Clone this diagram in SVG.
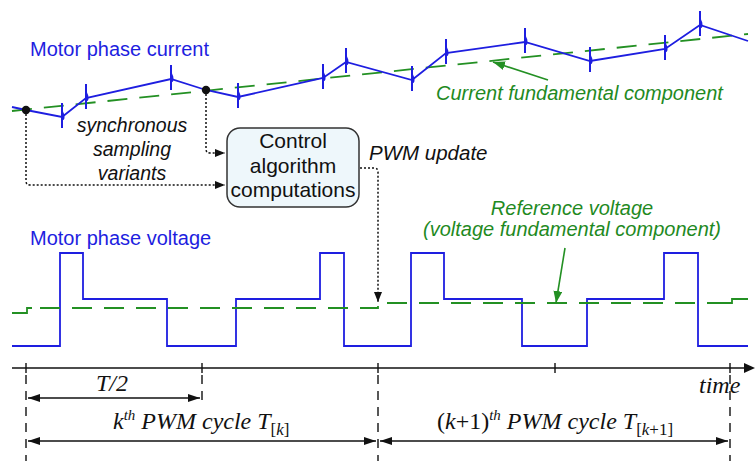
<svg xmlns="http://www.w3.org/2000/svg" width="755" height="461" viewBox="0 0 755 461">
<style>
.blue{fill:none;stroke:#1e1ee0;stroke-width:1.8}
.gdash{fill:none;stroke:#239023;stroke-width:1.8;stroke-dasharray:20 12}
.dot{fill:none;stroke:#111;stroke-width:1.5;stroke-dasharray:2 2}
.axis{fill:none;stroke:#111;stroke-width:1.4}
.vdash{fill:none;stroke:#111;stroke-width:1.4;stroke-dasharray:9 7}
.sans{font-family:"Liberation Sans",Arial,sans-serif;font-size:20px}
.it{font-style:italic}
.bt{fill:#1e1ee0}
.gt{fill:#1f8a1f}
.serif{font-family:"Liberation Serif","Times New Roman",serif;font-style:italic;font-size:24px;fill:#111}
</style>
<defs>
<marker id="ak" markerWidth="10" markerHeight="8" refX="10" refY="4" orient="auto" markerUnits="userSpaceOnUse"><path d="M0,0 L10,4 L0,8 z" fill="#111"/></marker>
<marker id="aks" markerWidth="12" markerHeight="8" refX="12" refY="4" orient="auto-start-reverse" markerUnits="userSpaceOnUse"><path d="M0,0 L12,4 L0,8 z" fill="#111"/></marker>
<marker id="ag" markerWidth="12" markerHeight="9" refX="12" refY="4.5" orient="auto" markerUnits="userSpaceOnUse"><path d="M0,0 L12,4.5 L0,9 z" fill="#239023"/></marker>
<g id="spike"><path d="M0,-14 V11" stroke="#1e1ee0" stroke-width="2" fill="none"/><path d="M-1,-7 Q2.5,-5 2.5,0 Q2.5,4 -1,3 z" fill="#1e1ee0"/></g>
</defs>

<!-- current signal -->
<g id="current">
<path class="gdash" d="M12,111 L748,34"/>
<polyline class="blue" points="12,107 26,110 62,117 86,98 171,79 206,90 238,97 323,78 346,62 412,80 446,53 525,42 590,61 665,49 700,25 748,41"/>
<use href="#spike" x="62" y="117"/>
<use href="#spike" x="86" y="98"/>
<use href="#spike" x="171" y="79"/>
<use href="#spike" x="238" y="97"/>
<use href="#spike" x="323" y="78"/>
<use href="#spike" x="346" y="62"/>
<use href="#spike" x="412" y="80"/>
<use href="#spike" x="446" y="53"/>
<use href="#spike" x="525" y="42"/>
<use href="#spike" x="590" y="61"/>
<use href="#spike" x="665" y="49"/>
<use href="#spike" x="700" y="25"/>
<circle cx="26" cy="110" r="4.2" fill="#111"/>
<circle cx="206" cy="90" r="4.2" fill="#111"/>
<text class="sans bt" x="30" y="56">Motor phase current</text>
<text class="sans it gt" x="436" y="100">Current fundamental component</text>
<path d="M548,80 L493,62" stroke="#239023" stroke-width="1.6" marker-end="url(#ag)"/>
</g>

<!-- voltage signal -->
<g id="voltage">
<polyline class="blue" points="12,346 60,346 60,253 83,253 83,299 167,299 167,346 236,346 236,299 320,299 320,253 344,253 344,346 411,346 411,253 444,253 444,299 522,299 522,346 587,346 587,299 664,299 664,253 698,253 698,346 748,346"/>
<path class="gdash" style="stroke-dasharray:none" d="M12,313 H27 V308 H32"/>
<path class="gdash" d="M40,308 H378 V303 H732"/>
<path class="gdash" style="stroke-dasharray:none" d="M726,303 H732 V299 H748"/>
<text class="sans bt" x="30" y="245">Motor phase voltage</text>
<text class="sans it gt" x="572" y="215" text-anchor="middle">Reference voltage</text>
<text class="sans it gt" x="572" y="236" text-anchor="middle">(voltage fundamental component)</text>
<path d="M565,248 L556,303" stroke="#239023" stroke-width="1.6" marker-end="url(#ag)"/>
</g>

<text class="sans it" style="font-size:19.5px" x="132" y="132" text-anchor="middle" fill="#111">synchronous</text>
<text class="sans it" style="font-size:19.5px" x="132" y="156" text-anchor="middle" fill="#111">sampling</text>
<text class="sans it" style="font-size:19.5px" x="132" y="180" text-anchor="middle" fill="#111">variants</text>

<g id="control">
<rect x="227" y="128" width="132" height="79" rx="13" fill="#eef7fb" stroke="#333" stroke-width="1.5"/>
<text class="sans" style="font-size:21px" x="293" y="148" text-anchor="middle" fill="#111">Control</text>
<text class="sans" style="font-size:21px" x="293" y="173" text-anchor="middle" fill="#111">algorithm</text>
<text class="sans" style="font-size:21px" x="293" y="197" text-anchor="middle" fill="#111">computations</text>
</g>
<text class="sans it" style="font-size:20.5px" x="369" y="160" fill="#111">PWM update</text>

<g id="connectors">
<path class="dot" d="M26,110 V181 Q26,185 30,185 H225" marker-end="url(#ak)"/>
<path class="dot" d="M206,90 V149 Q206,153 210,153 H225" marker-end="url(#ak)"/>
<path class="dot" d="M360,168 H374 Q378,168 378,172 V302" marker-end="url(#ak)"/>
</g>

<!-- time axis -->
<g id="axis">
<path class="axis" d="M12,368 H744"/>
<path d="M744,363 L755,368 L744,373 z" fill="#111"/>
<path class="axis" d="M26,363 V373 M202,363 V373 M378,363 V373 M555,363 V373 M730,363 V373"/>
<path class="vdash" d="M26,375 V461 M202,375 V405 M378,375 V461 M730,375 V461"/>
<text class="serif" x="699" y="393">time</text>
<text class="serif" x="112" y="391" text-anchor="middle">T/2</text>
<path class="axis" d="M28,398 H200" marker-start="url(#aks)" marker-end="url(#aks)"/>
<text class="serif" x="113" y="429">k<tspan dy="-9" font-size="15">th</tspan><tspan dy="9"> PWM cycle T</tspan><tspan dy="6" font-size="17" font-style="normal">[</tspan><tspan font-size="17">k</tspan><tspan font-size="17" font-style="normal">]</tspan></text>
<path class="axis" d="M28,441 H376" marker-start="url(#aks)" marker-end="url(#aks)"/>
<text class="serif" x="437" y="429"><tspan font-style="normal">(</tspan>k<tspan font-style="normal">+1)</tspan><tspan dy="-9" font-size="15">th</tspan><tspan dy="9"> PWM cycle T</tspan><tspan dy="6" font-size="17" font-style="normal">[</tspan><tspan font-size="17">k</tspan><tspan font-size="17" font-style="normal">+1]</tspan></text>
<path class="axis" d="M380,441 H728" marker-start="url(#aks)" marker-end="url(#aks)"/>
</g>
</svg>
